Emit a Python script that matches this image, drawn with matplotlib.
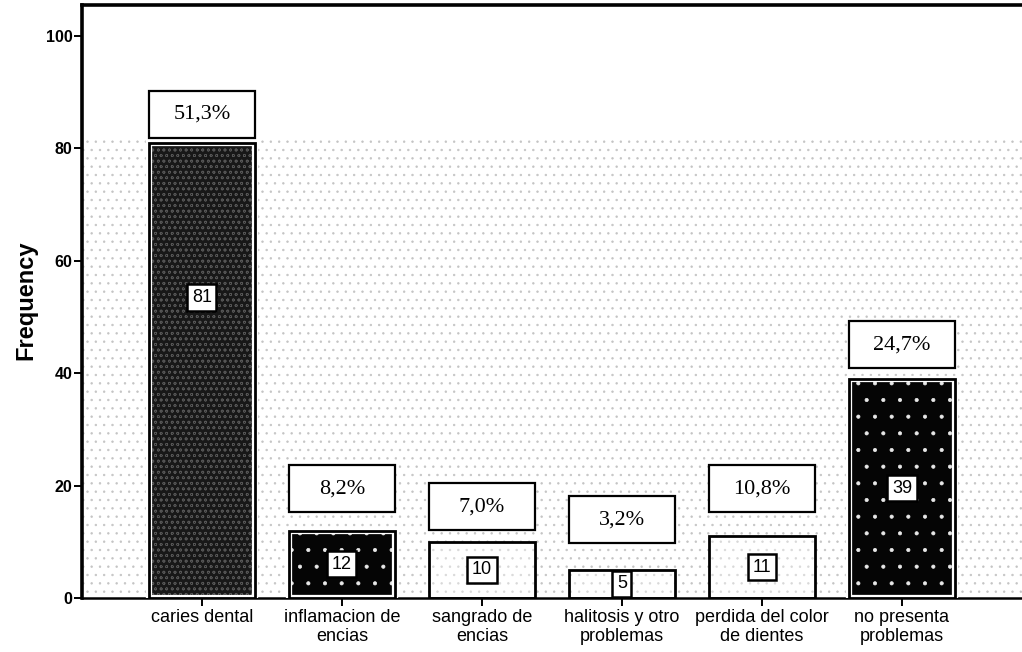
import matplotlib
matplotlib.use("Agg")
import matplotlib.pyplot as plt
from matplotlib.patches import Rectangle

# Frequency of oral health problems
categories = [
    "caries dental",
    "inflamacion de\nencias",
    "sangrado de\nencias",
    "halitosis y otro\nproblemas",
    "perdida del color\nde dientes",
    "no presenta\nproblemas",
]
counts = [81, 12, 10, 5, 11, 39]
percent_labels = ["51,3%", "8,2%", "7,0%", "3,2%", "10,8%", "24,7%"]
y_ticks = [0, 20, 40, 60, 80, 100]

# styling per bar
fill_colors = ["#181818", "#050505", "#ffffff", "#ffffff", "#ffffff", "#050505"]
hatch_colors = ["#555555", "#e8e8e8", "#d8d8d8", "#d8d8d8", "#d8d8d8", "#e8e8e8"]
hatches = ["ooo", ".", "..", "..", "..", "."]
box_gap = [0.9, 3.3, 2.1, 4.8, 4.3, 1.9]
count_label_frac = [0.66, 0.5, 0.5, 0.5, 0.5, 0.5]

BAR_W = 0.757
BOX_H = 8.3

plt.rcParams["hatch.linewidth"] = 0.5

fig = plt.figure(figsize=(10.22, 6.52), dpi=100)
left_px, right_px, bottom_px, top_px = 82, 1032, 598, 5
ax = fig.add_axes([left_px / 1022, (652 - bottom_px) / 652,
                   (right_px - left_px) / 1022, (bottom_px - top_px) / 652])

xs = list(range(len(categories)))
ax.set_xlim(-0.857, -0.857 + (right_px - left_px) / 140)
ax.set_ylim(0, 105.5)

# light grain in the lower part of the plot area
ax.add_patch(Rectangle((-1, 0), 8, 81.5, facecolor="none", hatch="..",
                       edgecolor="#c4c4c4", linewidth=0, zorder=0))

for i, x in enumerate(xs):
    # fill with texture
    ax.bar(x, counts[i], width=BAR_W, color=fill_colors[i], hatch=hatches[i],
           edgecolor=hatch_colors[i], linewidth=0, zorder=2)
    # inner light ring
    if fill_colors[i] != "#ffffff":
        ax.bar(x, counts[i], width=BAR_W, fill=False, edgecolor="white",
               linewidth=4.5, zorder=3)
    # outline
    ax.bar(x, counts[i], width=BAR_W, fill=False, edgecolor="black",
           linewidth=2.0, zorder=4)

    # count label inside the bar
    ax.text(x, counts[i] * count_label_frac[i], str(counts[i]),
            ha="center", va="center", fontsize=13, family="Liberation Sans",
            color="black", zorder=6,
            bbox=dict(boxstyle="square,pad=0.25", facecolor="white",
                      edgecolor="black", linewidth=1.8))

    # percentage box above the bar
    b = counts[i] + box_gap[i]
    ax.add_patch(Rectangle((x - BAR_W / 2, b), BAR_W, BOX_H, facecolor="white",
                           edgecolor="black", linewidth=1.6, zorder=5))
    ax.text(x, b + BOX_H / 2, percent_labels[i], ha="center", va="center",
            fontsize=16, family="Liberation Serif", zorder=6)

for side in ["left", "top", "bottom"]:
    ax.spines[side].set_color("black")
ax.spines["left"].set_linewidth(2.6)
ax.spines["top"].set_linewidth(2.6)
ax.spines["bottom"].set_linewidth(1.8)
ax.spines["right"].set_visible(False)

ax.set_yticks(y_ticks)
ax.set_yticklabels([str(t) for t in y_ticks], family="Liberation Sans",
                   fontsize=11.5, fontweight="bold")
ax.set_xticks(xs)
ax.set_xticklabels(categories, family="Liberation Sans", fontsize=13,
                   linespacing=1.15)
ax.tick_params(axis="y", direction="out", length=6, width=1.4, pad=1)
ax.tick_params(axis="x", direction="out", length=6, width=1.4, pad=2)

fig.text(26 / 1022, 1 - 300 / 652, "Frequency", rotation=90, ha="center",
         va="center", fontsize=17, fontweight="bold", family="Liberation Sans")

fig.savefig("out.png", dpi=100)
